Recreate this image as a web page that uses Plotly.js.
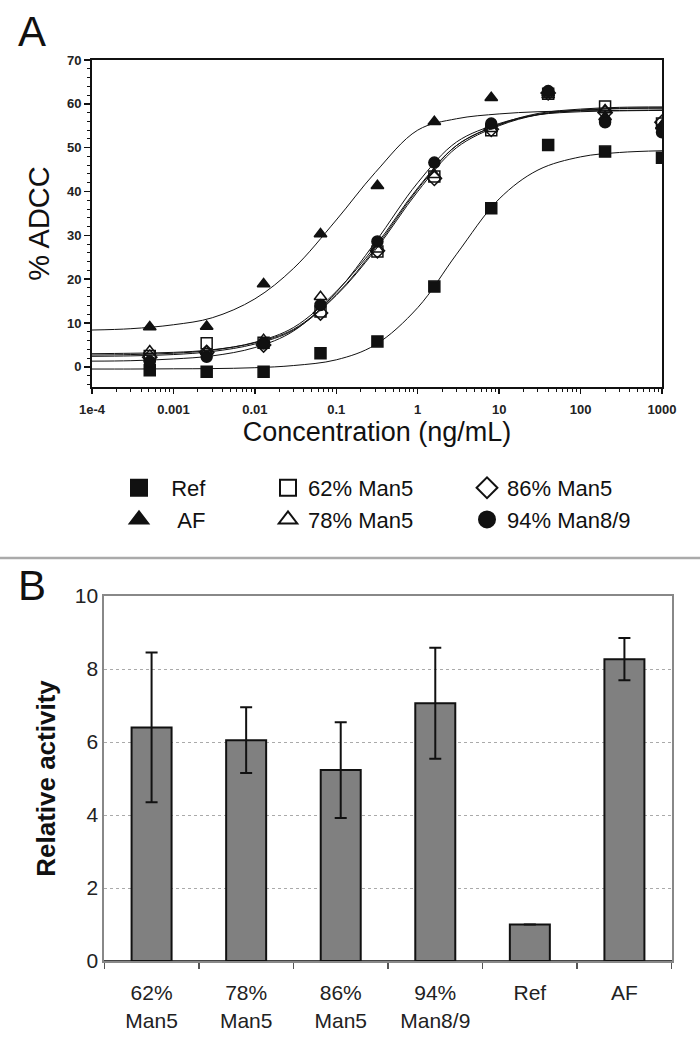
<!DOCTYPE html>
<html>
<head>
<meta charset="utf-8">
<script src="https://cdn.plot.ly/plotly-3.0.1.min.js"></script>
<style>html,body{margin:0;padding:0;background:#fff;}#chart{width:700px;height:1050px;}</style>
</head>
<body>
<div id="chart"></div>
<script>
// ---------- Panel A data ----------
const conc = [0.000512, 0.00256, 0.0128, 0.064, 0.32, 1.6, 8, 40, 200, 1000];
const refPts  = [-0.8, -1.1, -1.1, 3.1, 5.8, 18.3, 36.2, 50.6, 49.1, 47.7];
const afPts   = [9.1, 9.2, 18.9, 30.3, 41.3, 55.9, 61.4, 62.5, 57.0, 55.0];
const m62Pts  = [2.5, 5.4, 5.5, 12.6, 26.3, 43.4, 54.0, 62.3, 59.4, 55.5];
const m78Pts  = [3.6, 3.5, 6.2, 16.0, 26.8, 43.8, 54.3, 62.0, 58.6, 55.0];
const m86Pts  = [2.2, 3.3, 5.0, 12.3, 26.5, 43.0, 54.2, 62.5, 58.0, 55.8];
const m94Pts  = [1.2, 2.3, 5.3, 14.1, 28.6, 46.6, 55.5, 62.9, 55.8, 53.5];

// fitted curves
const fitX   = [1e-4, 3e-4, 1e-3, 3e-3, 0.01, 0.03, 0.1, 0.3, 1, 3, 10, 30, 100, 300, 1000];
const refFit = [-0.5, -0.5, -0.45, -0.4, -0.2, 0.3, 1.6, 5.0, 13.5, 25.7, 38.3, 44.9, 47.9, 48.9, 49.3];
const afFit  = [8.4, 8.7, 9.6, 11.2, 15.5, 22.5, 33.5, 44.3, 54.0, 56.6, 57.7, 58.2, 58.4, 58.5, 58.6];
const m62Fit = [3.0, 3.1, 3.3, 3.9, 5.5, 8.6, 16.5, 27.0, 40.5, 50.5, 55.3, 57.8, 58.8, 59.2, 59.3];
const m78Fit = [2.7, 2.8, 3.1, 3.8, 5.6, 9.0, 17.2, 27.5, 40.8, 50.5, 55.2, 57.6, 58.6, 59.0, 59.1];
const m86Fit = [2.4, 2.5, 2.8, 3.5, 5.2, 8.4, 16.3, 26.6, 40.0, 50.0, 55.0, 57.5, 58.5, 58.9, 59.0];
const m94Fit = [1.3, 1.4, 1.8, 2.5, 4.4, 8.2, 17.0, 28.4, 42.0, 51.3, 55.5, 57.5, 58.2, 58.4, 58.5];

const xTickVals = [1e-4, 0.001, 0.01, 0.1, 1, 10, 100, 1000];
const xTickText = ['1e-4', '0.001', '0.01', '0.1', '1', '10', '100', '1000'];

// ---------- Panel B data ----------
const barCats = ['62%<br>Man5', '78%<br>Man5', '86%<br>Man5', '94%<br>Man8/9', 'Ref', 'AF'];
const barVals = [6.4, 6.05, 5.23, 7.06, 1.0, 8.27];
const barErr  = [2.05, 0.9, 1.31, 1.52, null, 0.58];

const FONT = 'Liberation Sans, Arial, sans-serif';
const NB = '\u00a0';

const series = [
  {name: 'Ref',        label: NB + NB + 'Ref',      pts: refPts, fit: refFit, symbol: 'square',           legend: 'legend',  rank: 1},
  {name: 'AF',         label: NB + NB + NB + 'AF',  pts: afPts,  fit: afFit,  symbol: 'triangle-up',      legend: 'legend',  rank: 2},
  {name: '62% Man5',   label: '62% Man5',           pts: m62Pts, fit: m62Fit, symbol: 'square-open',      legend: 'legend2', rank: 1},
  {name: '78% Man5',   label: '78% Man5',           pts: m78Pts, fit: m78Fit, symbol: 'triangle-up-open', legend: 'legend2', rank: 2},
  {name: '86% Man5',   label: '86% Man5',           pts: m86Pts, fit: m86Fit, symbol: 'diamond-open',     legend: 'legend3', rank: 1},
  {name: '94% Man8/9', label: '94% Man8/9',         pts: m94Pts, fit: m94Fit, symbol: 'circle',           legend: 'legend3', rank: 2}
];

const traces = [];
series.forEach(s => {
  traces.push({
    x: fitX, y: s.fit, mode: 'lines', type: 'scatter',
    line: {color: '#111', width: 1, shape: 'spline'},
    xaxis: 'x', yaxis: 'y', showlegend: false, hoverinfo: 'skip'
  });
});
series.forEach(s => {
  traces.push({
    x: conc, y: s.pts, mode: 'markers', type: 'scatter', name: s.name,
    marker: {symbol: s.symbol, size: 11, color: '#111', line: {color: '#111', width: 1.5}},
    xaxis: 'x', yaxis: 'y', showlegend: false
  });
});
// legend entries (larger symbols), no data
series.forEach(s => {
  traces.push({
    x: [null], y: [null], mode: 'markers', type: 'scatter', name: s.label,
    marker: {symbol: s.symbol, size: 17, color: '#111', line: {color: '#111', width: 2}},
    xaxis: 'x', yaxis: 'y', showlegend: true, legend: s.legend, legendgroup: s.name, legendrank: s.rank
  });
});

traces.push({
  type: 'bar', x: barCats, y: barVals, xaxis: 'x2', yaxis: 'y2', showlegend: false,
  marker: {color: '#808080', line: {color: '#111', width: 2}},
  error_y: {type: 'data', array: barErr, visible: true, color: '#111', thickness: 2, width: 6}
});

function legendCfg(xpx) {
  return {
    x: xpx / 700, y: 1 - 467 / 1050, xanchor: 'left', yanchor: 'top',
    orientation: 'v', bgcolor: 'rgba(0,0,0,0)', borderwidth: 0,
    font: {family: FONT, size: 22, color: '#111'}, tracegroupgap: 5,
    traceorder: 'normal'
  };
}

const layout = {
  width: 700, height: 1050,
  margin: {l: 0, r: 0, t: 0, b: 0},
  paper_bgcolor: '#fff', plot_bgcolor: '#fff',
  font: {family: FONT, color: '#111'},
  bargap: 0.577,
  xaxis: {
    type: 'log', domain: [92 / 700, 662 / 700], range: [-4, 3], anchor: 'y',
    tickmode: 'array', tickvals: xTickVals, ticktext: xTickText,
    ticks: 'outside', ticklen: 5, tickwidth: 1.5, tickcolor: '#111',
    tickfont: {family: FONT, size: 13, color: '#222', weight: 'bold'},
    ticklabelstandoff: 4,
    minor: {ticks: 'outside', ticklen: 3, tickwidth: 1, tickcolor: '#111', dtick: 'D1', showgrid: false},
    showline: true, linewidth: 2, linecolor: '#111', mirror: true,
    showgrid: false, zeroline: false,
    title: {text: 'Concentration (ng/mL)', font: {family: FONT, size: 27, color: '#111'}, standoff: 5}
  },
  yaxis: {
    domain: [1 - 387 / 1050, 1 - 60 / 1050], range: [-4.6, 70], anchor: 'x',
    tickmode: 'linear', tick0: 0, dtick: 10,
    ticks: 'outside', ticklen: 6, tickwidth: 1.5, tickcolor: '#111',
    tickfont: {family: FONT, size: 13, color: '#222', weight: 'bold'},
    minor: {ticks: 'outside', ticklen: 3, tickwidth: 1, tickcolor: '#111', dtick: 2, showgrid: false},
    showline: true, linewidth: 2, linecolor: '#111', mirror: true,
    showgrid: false, zeroline: false,
    title: {text: '% ADCC', font: {family: FONT, size: 29, color: '#111'}, standoff: 9}
  },
  xaxis2: {
    type: 'category', domain: [104.3 / 700, 671.7 / 700], anchor: 'y2',
    ticks: 'outside', tickson: 'boundaries', ticklen: 6, tickcolor: '#555', tickwidth: 1.5,
    tickfont: {family: FONT, size: 21, color: '#222'},
    ticklabelstandoff: 12,
    showline: true, linewidth: 2, linecolor: '#888', mirror: true,
    showgrid: false, zeroline: false
  },
  yaxis2: {
    domain: [1 - 961 / 1050, 1 - 596 / 1050], range: [0, 10], anchor: 'x2',
    tickmode: 'linear', tick0: 0, dtick: 2, ticks: '',
    tickfont: {family: FONT, size: 21, color: '#222'},
    showline: true, linewidth: 2, linecolor: '#888', mirror: true,
    showgrid: true, gridcolor: '#aaa', gridwidth: 1, griddash: 'dot',
    zeroline: true, zerolinecolor: '#444', zerolinewidth: 2,
    title: {text: '<b>Relative activity</b>', font: {family: FONT, size: 26, color: '#111'}, standoff: 12}
  },
  legend: legendCfg(119),
  legend2: legendCfg(268),
  legend3: legendCfg(467),
  shapes: [
    {type: 'line', xref: 'paper', yref: 'paper', x0: 0, x1: 1, y0: 1 - 558 / 1050, y1: 1 - 558 / 1050,
     line: {color: '#aaa', width: 2.5}}
  ],
  annotations: [
    {text: 'A', xref: 'paper', yref: 'paper', x: 16 / 700, y: 1 - 32 / 1050, xanchor: 'left', yanchor: 'middle',
     showarrow: false, font: {family: FONT, size: 42, color: '#111'}},
    {text: 'B', xref: 'paper', yref: 'paper', x: 16 / 700, y: 1 - 585 / 1050, xanchor: 'left', yanchor: 'middle',
     showarrow: false, font: {family: FONT, size: 42, color: '#111'}}
  ]
};

Plotly.newPlot('chart', traces, layout, {staticPlot: true, displayModeBar: false});
</script>
</body>
</html>
